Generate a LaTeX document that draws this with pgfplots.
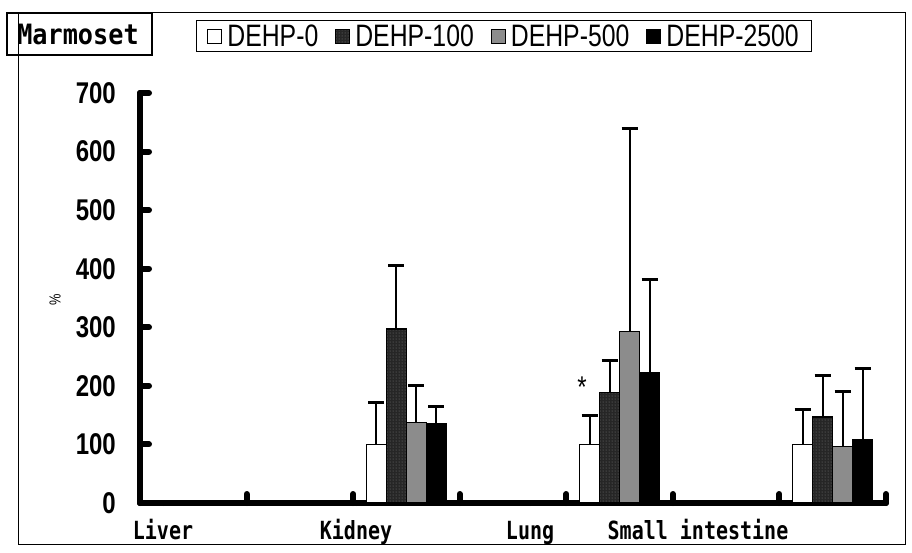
\documentclass[border=0pt]{standalone}
\usepackage{fontspec}
\setmainfont{Liberation Sans}[FakeStretch=0.8]
\newfontfamily\gothic{DejaVu Sans Mono}[FakeStretch=0.8]
\newfontfamily\gothicw{DejaVu Sans Mono}[FakeStretch=0.9]
\usepackage{pgfplots}
\pgfplotsset{compat=1.18}
\usetikzlibrary{patterns}

\pgfplotsset{
  sq legend/.style={legend image code/.code={\draw[##1, line width=1pt] (0pt,-7pt) rectangle (14pt,7pt);}},
  errs/.style={error bars/.cd, y dir=plus, y explicit,
    error bar style={line width=2pt, black},
    error mark options={rotate=90, line width=3pt, mark size=8pt, black}},
}

\begin{document}
\begin{tikzpicture}
\useasboundingbox (0,0) rectangle (912pt,552pt);
\begin{axis}[
  at={(140pt,49pt)}, anchor=south west, scale only axis,
  width=746pt, height=410pt,
  xmin=-0.5, xmax=6.5, ymin=0, ymax=700,
  ybar=0pt, bar width=20pt,
  axis lines=left,
  axis line style={line width=6pt, -, line cap=round},
  xtick={0.5,1.5,...,6.5}, xticklabels={},
  ytick={0,100,...,700},
  tick align=inside, major tick length=9pt,
  tick style={line width=6pt, line cap=round, black},
  /pgf/number format/assume math mode=true,
  yticklabel style={font=\bfseries\fontsize{30}{30}\selectfont, anchor=east, inner sep=0pt, xshift=-24pt},
  extra x ticks={-0.284,1.527,3.16,4.736},
  extra x tick labels={Liver,Kidney,Lung,Small intestine},
  extra x tick style={major tick length=0pt,
    xticklabel style={font=\gothic\bfseries\fontsize{25}{25}\selectfont, anchor=base, inner sep=0pt, yshift=-36pt}},
  legend columns=4,
  legend style={at={(axis description cs:0.488,1.138)}, anchor=center, draw=black, line width=1pt,
    font=\fontsize{31}{31}\selectfont, inner xsep=11pt, inner ysep=1pt,
    nodes={inner xsep=2pt, inner ysep=3pt},
    /tikz/every odd column/.append style={column sep=3pt},
    /tikz/every even column/.append style={column sep=15pt}},
  clip=false,
]
\addplot[fill=white, draw=black, line width=1.2pt, sq legend, errs]
  coordinates {(2,100) +- (0,72) (4,100) +- (0,50) (6,100) +- (0,60)};
\addplot[fill=black!85, draw=black, line width=1.2pt,
  postaction={pattern=dots, pattern color=gray}, sq legend, errs]
  coordinates {(2,297) +- (0,109) (4,188) +- (0,56) (6,147) +- (0,71)};
\addplot[fill=black!45, draw=black, line width=1.2pt, sq legend, errs]
  coordinates {(2,137) +- (0,63) (4,293) +- (0,347) (6,97) +- (0,94)};
\addplot[fill=black, draw=black, line width=1.2pt, sq legend, errs]
  coordinates {(2,136) +- (0,29) (4,222) +- (0,159) (6,109) +- (0,120)};
\legend{DEHP-0, DEHP-100, DEHP-500, DEHP-2500}
\node[font=\fontsize{30}{30}\selectfont] at (axis cs:3.647,198) {*};
\end{axis}
\draw[line width=1pt] (18pt,8pt) rectangle (905pt,539pt);
\draw[line width=1.3pt] (7pt,497pt) rectangle (152pt,539pt);
\node[font=\gothicw\bfseries\fontsize{28}{28}\selectfont] at (78pt,518pt) {Marmoset};
\node[rotate=90, font=\fontsize{16}{16}\selectfont] at (55pt,252pt) {\%};
\end{tikzpicture}
\end{document}
